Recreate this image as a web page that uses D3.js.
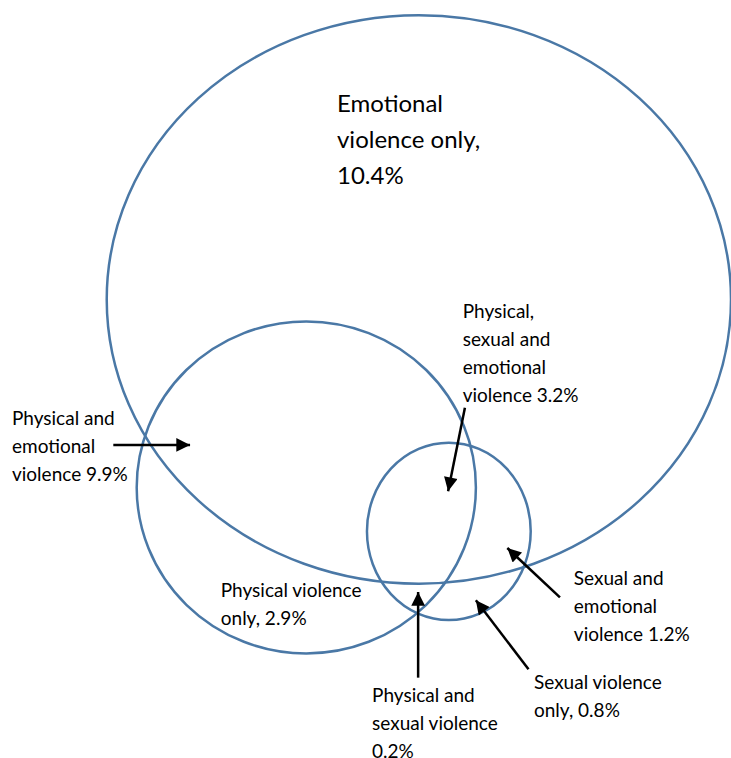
<!DOCTYPE html>
<html>
<head>
<meta charset="UTF-8">
<title>Violence overlap</title>
<script src="https://d3js.org/d3.v7.min.js"></script>
<style>
  body { margin: 0; background: #fff; }
  text { font-family: Lato, "Open Sans", sans-serif; fill: #000; }
</style>
</head>
<body>
<div id="chart"></div>
<script>
// sets and region shares (%)
var sets = ["Emotional", "Physical", "Sexual"];
var regionNames = ["Emotional violence only", "Physical and emotional violence", "Physical, sexual and emotional violence",
                   "Physical violence only", "Sexual and emotional violence", "Sexual violence only", "Physical and sexual violence"];
var regionValues = [10.4, 9.9, 3.2, 2.9, 1.2, 0.8, 0.2];
var regionLines = [
  ["Emotional", "violence only,", "10.4%"],
  ["Physical and", "emotional", "violence 9.9%"],
  ["Physical,", "sexual and", "emotional", "violence 3.2%"],
  ["Physical violence", "only, 2.9%"],
  ["Sexual and", "emotional", "violence 1.2%"],
  ["Sexual violence", "only, 0.8%"],
  ["Physical and", "sexual violence", "0.2%"]
];

var width = 731, height = 758;

// diagram units -> pixels
var x = d3.scaleLinear().domain([0, 100]).range([0, width]);
var y = d3.scaleLinear().domain([0, 100]).range([0, height]);

// layout of the three ellipses (diagram units)
var shapes = [
  {cx: 57.3, cy: 39.5, rx: 42.7, ry: 37.5},
  {cx: 41.9, cy: 64.3, rx: 23.2, ry: 21.9},
  {cx: 61.4, cy: 70.1, rx: 11.2, ry: 11.7}
];

// label layout: first baseline and arrow (from -> to), diagram units
var labelLayout = [
  {x: 46.1, y: 14.78, size: 24, lh: 4.75, arrow: null},
  {x: 1.64, y: 56.07, size: 19, lh: 3.69, arrow: [15.5, 58.7, 26.0, 58.7]},
  {x: 63.3, y: 41.95, size: 19, lh: 3.69, arrow: [63.6, 53.8, 61.3, 64.8]},
  {x: 30.2, y: 78.76, size: 19, lh: 3.69, arrow: null},
  {x: 78.5, y: 77.18, size: 19, lh: 3.69, arrow: [76.6, 78.8, 69.4, 72.3]},
  {x: 73.05, y: 90.9, size: 19, lh: 3.69, arrow: [72.3, 88.3, 65.1, 79.2]},
  {x: 50.9, y: 92.6, size: 19, lh: 3.69, arrow: [57.2, 89.4, 57.2, 78.1]}
];

var svg = d3.select("#chart").append("svg")
  .attr("width", width)
  .attr("height", height);

svg.append("defs").append("marker")
  .attr("id", "head")
  .attr("viewBox", "0 0 10 10")
  .attr("refX", 10).attr("refY", 5)
  .attr("markerWidth", 6.5).attr("markerHeight", 5.5)
  .attr("markerUnits", "strokeWidth")
  .attr("orient", "auto")
  .append("path")
  .attr("d", "M0,0L10,5L0,10Z")
  .attr("fill", "#000");

svg.selectAll("ellipse.set")
  .data(shapes)
  .enter().append("ellipse")
  .attr("class", "set")
  .attr("cx", function(d) { return x(d.cx); })
  .attr("cy", function(d) { return y(d.cy); })
  .attr("rx", function(d) { return x(d.rx); })
  .attr("ry", function(d) { return y(d.ry); })
  .attr("fill", "none")
  .attr("stroke", "#4a78a6")
  .attr("stroke-width", 2.5);

var labels = regionLines.map(function(lines, i) {
  return {name: regionNames[i], value: regionValues[i], lines: lines, pos: labelLayout[i]};
});

svg.selectAll("line.arrow")
  .data(labels.filter(function(d) { return d.pos.arrow; }))
  .enter().append("line")
  .attr("class", "arrow")
  .attr("x1", function(d) { return x(d.pos.arrow[0]); })
  .attr("y1", function(d) { return y(d.pos.arrow[1]); })
  .attr("x2", function(d) { return x(d.pos.arrow[2]); })
  .attr("y2", function(d) { return y(d.pos.arrow[3]); })
  .attr("stroke", "#000")
  .attr("stroke-width", 2.5)
  .attr("marker-end", "url(#head)");

var t = svg.selectAll("text.label")
  .data(labels)
  .enter().append("text")
  .attr("class", "label")
  .attr("font-size", function(d) { return d.pos.size; });

t.selectAll("tspan")
  .data(function(d) { return d.lines.map(function(s, j) { return {s: s, j: j, pos: d.pos}; }); })
  .enter().append("tspan")
  .attr("x", function(d) { return x(d.pos.x); })
  .attr("y", function(d) { return y(d.pos.y + d.j * d.pos.lh); })
  .text(function(d) { return d.s; });
</script>
</body>
</html>
